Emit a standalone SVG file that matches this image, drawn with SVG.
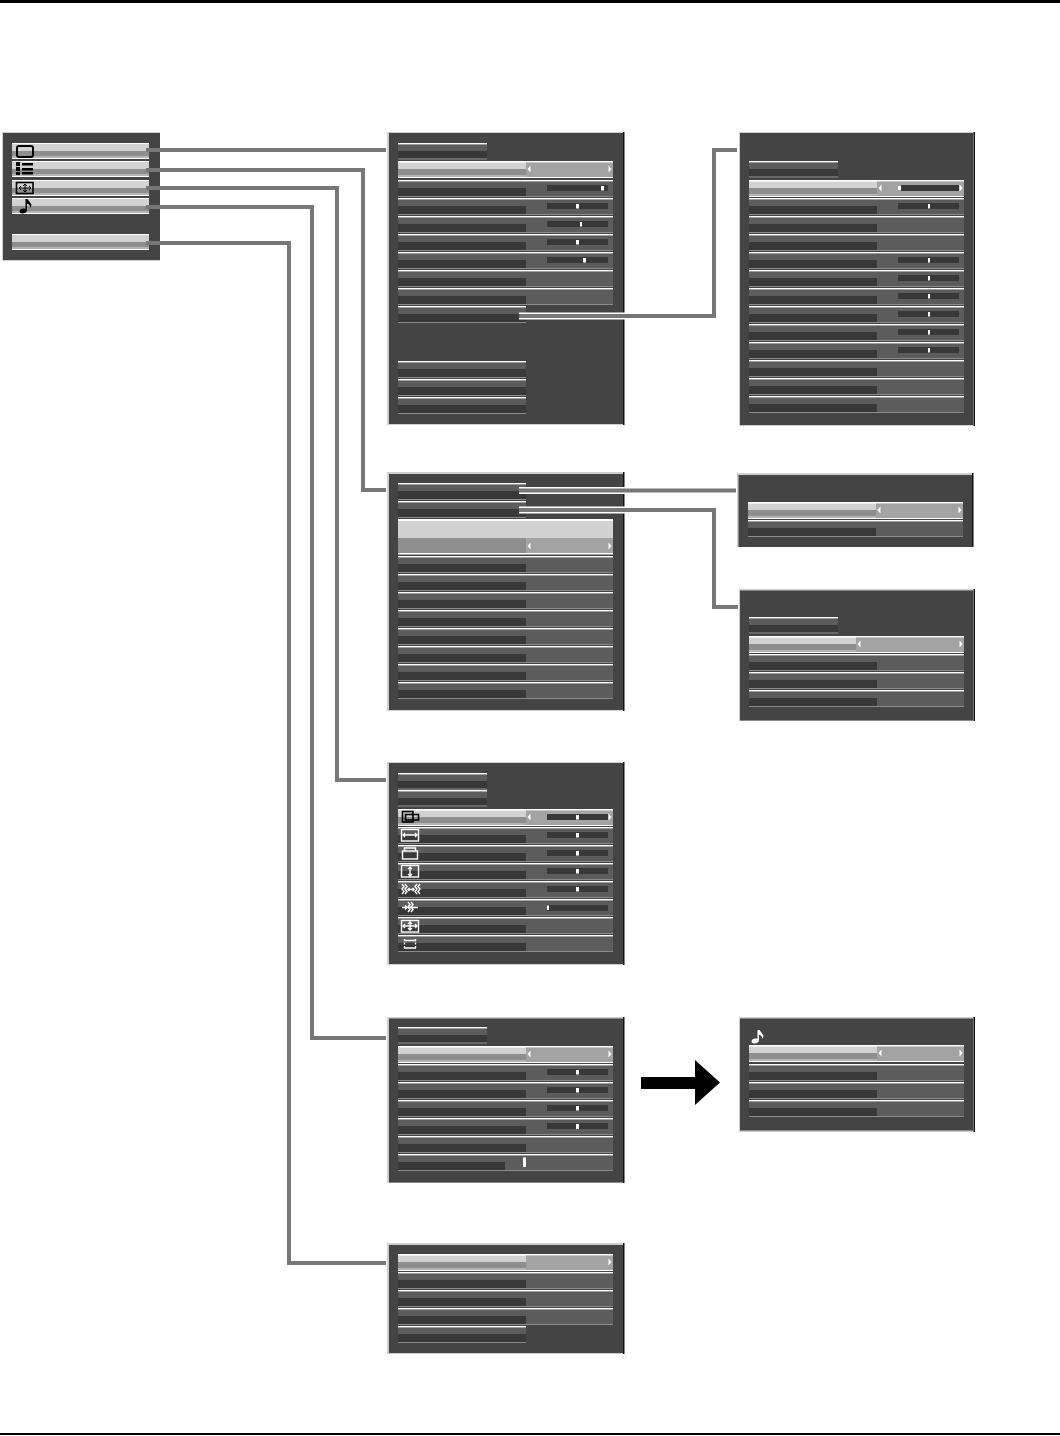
<svg xmlns="http://www.w3.org/2000/svg" width="1060" height="1436" viewBox="0 0 1060 1436">
<style>
.w{fill:#fff}.m{fill:#5c5c5c}.d{fill:#383838}.g{fill:#8c8c8c}.li{fill:#d2d2d2}.mid{fill:#8e8e8e}.sh{fill:#b4b4b4}.r{fill:#a3a3a3}
.pb{fill:#444}.pl{fill:#cfcfcf}.pk{fill:#111}.sl{fill:#383838}.k{fill:#fff}
.halo{fill:none;stroke:#fff;stroke-width:7}
.c{fill:none;stroke:#777;stroke-width:4}
.ib{fill:none;stroke:#000;stroke-width:1.6}
.iw{fill:none;stroke:#fff;stroke-width:1.4}
.af{fill:#fff}
</style>
<defs>
<g id="row"><rect class="m" y="1" width="128" height="7"/><rect class="d" y="8" width="128" height="8"/><rect class="m" x="128" y="1" width="87" height="15"/><rect class="g" y="16" width="215" height="1"/><rect class="w" width="215" height="1.4"/></g>
<g id="rowl"><rect class="m" y="1" width="128" height="7"/><rect class="d" y="8" width="128" height="8"/><rect class="g" y="16" width="128" height="1"/><rect class="w" width="128" height="1.4"/></g>
<g id="head"><rect class="m" y="1" width="89" height="7"/><rect class="d" y="8" width="89" height="7"/><rect class="g" y="15.500" width="89" height="1"/><rect class="w" width="89" height="1.400"/></g>
<g id="sel"><rect class="li" y="1" width="128" height="7"/><rect class="mid" y="8" width="128" height="6"/><rect class="sh" y="14" width="128" height="2"/><rect class="r" x="128" y="1.500" width="87" height="14.500"/><rect class="w" width="215" height="1.600"/><rect class="w" y="16" width="215" height="1"/></g>
<g id="larr"><path class="af" d="M129.500 8 L132.500 4.500 V11.500 Z"/></g>
<g id="rarr"><path class="af" d="M213.500 8 L210.500 4.500 V11.500 Z"/></g>
<g id="mrow"><rect class="li" width="137" height="8"/><rect class="mid" y="8" width="137" height="5"/><rect class="sh" y="13" width="137" height="2"/><rect class="w" width="137" height="1"/><rect class="w" y="15" width="137" height="1"/></g>
<rect id="s" class="sl" width="61" height="6"/>
</defs>

<rect id="top-rule" x="0" y="0" width="1060" height="3" fill="#000"/>
<rect id="bottom-rule" x="0" y="1433" width="1060" height="2" fill="#000"/>

<g id="menu">
<rect class="pl" x="2" y="132" width="158" height="129"/><rect class="pb" x="3" y="133" width="157" height="127"/>
<use href="#mrow" x="12" y="143"/><use href="#mrow" x="12" y="161"/><use href="#mrow" x="12" y="180"/><use href="#mrow" x="12" y="198"/><use href="#mrow" x="12" y="234"/>
<rect class="ib" x="17" y="146" width="16" height="11" rx="2" style="stroke-width:2"/>
<path fill="#000" d="M16 162h4v4h-4zM22 163h11v2.500h-11zM16 167h4v4h-4zM22 168h11v2.500h-11zM16 172h4v3h-4zM22 172h11v2.500h-11z"/>
<rect class="ib" x="16.500" y="182.500" width="16.500" height="11"/>
<path class="ib" d="M19 188h12M25 184v8M21 186l-2 2 2 2M29 186l2 2-2 2M23 186l2-2 2 2M23 190l2 2 2-2" style="stroke-width:1"/>
<path fill="#000" d="M25.500 199h2l4 5.500-1 3.500-1-3-2.500-1.500V210c0 2-2 3.500-4.500 3.500-2 0-3-1-3-2 0-1.800 2-3 4-3 1 0 1.500.2 2 .4z"/>
</g>

<g id="picture-menu">
<rect class="pl" x="387" y="132" width="237" height="293"/><rect class="pb" x="389" y="133" width="234" height="291"/><rect class="pk" x="623" y="132" width="1.500" height="293"/>
<use href="#head" x="398" y="143"/>
<use href="#sel" x="398" y="161"/><use href="#larr" x="398" y="161"/><use href="#rarr" x="398" y="161"/>
<use href="#row" x="398" y="180"/><use href="#row" x="398" y="198"/><use href="#row" x="398" y="216"/><use href="#row" x="398" y="234"/><use href="#row" x="398" y="252"/><use href="#row" x="398" y="270"/><use href="#row" x="398" y="288"/>
<use href="#rowl" x="398" y="306"/><use href="#rowl" x="398" y="361"/><use href="#rowl" x="398" y="379"/><use href="#rowl" x="398" y="397"/>
<use href="#s" x="547" y="185"/><use href="#s" x="547" y="203"/><use href="#s" x="547" y="221"/><use href="#s" x="547" y="239"/><use href="#s" x="547" y="257"/>
<rect class="k" x="601" y="186" width="3" height="4.500"/><rect class="k" x="576" y="204" width="3" height="4.500"/><rect class="k" x="580" y="222" width="2" height="4.500"/><rect class="k" x="576" y="240" width="3" height="4.500"/><rect class="k" x="583" y="258" width="3" height="4.500"/>
</g>

<g id="advanced-picture">
<rect class="pl" x="739" y="132" width="236" height="294"/><rect class="pb" x="740" y="133" width="233" height="292"/><rect class="pk" x="973.500" y="132" width="1.500" height="294"/>
<use href="#head" x="749" y="161"/>
<use href="#sel" x="749" y="180"/><use href="#larr" x="749" y="180"/><use href="#rarr" x="749" y="180"/>
<use href="#row" x="749" y="198"/><use href="#row" x="749" y="216"/><use href="#row" x="749" y="234"/><use href="#row" x="749" y="252"/><use href="#row" x="749" y="270"/><use href="#row" x="749" y="288"/><use href="#row" x="749" y="306"/><use href="#row" x="749" y="324"/><use href="#row" x="749" y="342"/><use href="#row" x="749" y="360"/><use href="#row" x="749" y="378"/><use href="#row" x="749" y="396"/>
<use href="#s" x="898" y="185"/><use href="#s" x="898" y="203"/><use href="#s" x="898" y="257"/><use href="#s" x="898" y="275"/><use href="#s" x="898" y="293"/><use href="#s" x="898" y="311"/><use href="#s" x="898" y="329"/><use href="#s" x="898" y="347"/>
<rect class="k" x="898" y="185.500" width="3" height="5"/><rect class="k" x="928" y="204" width="2" height="4.500"/><rect class="k" x="928" y="258" width="2" height="4.500"/><rect class="k" x="928" y="276" width="2" height="4.500"/><rect class="k" x="928" y="294" width="2" height="4.500"/><rect class="k" x="928" y="312" width="2" height="4.500"/><rect class="k" x="928" y="330" width="2" height="4.500"/><rect class="k" x="928" y="348" width="2" height="4.500"/>
</g>

<g id="setup-menu">
<rect class="pl" x="387" y="472" width="237" height="239"/><rect class="pb" x="389" y="474" width="234" height="236"/><rect class="pk" x="623" y="472" width="1.500" height="239"/>
<use href="#rowl" x="398" y="483"/><use href="#rowl" x="398" y="501"/>
<rect class="w" x="398" y="519" width="215" height="2"/><rect class="li" x="398" y="521" width="215" height="17"/>
<rect class="mid" x="398" y="538" width="128" height="15"/><rect class="r" x="526" y="538" width="87" height="15"/><rect class="w" x="398" y="553" width="215" height="1.500"/>
<use href="#larr" x="398" y="538"/><use href="#rarr" x="398" y="538"/>
<use href="#row" x="398" y="556"/><use href="#row" x="398" y="574"/><use href="#row" x="398" y="592"/><use href="#row" x="398" y="610"/><use href="#row" x="398" y="628"/><use href="#row" x="398" y="646"/><use href="#row" x="398" y="664"/><use href="#row" x="398" y="682"/>
</g>

<g id="setup-sub-one">
<rect class="pl" x="737" y="473" width="236" height="74"/><rect class="pb" x="738.500" y="475" width="233.500" height="72"/><rect class="pk" x="972" y="473" width="1.500" height="74"/>
<use href="#sel" x="748" y="502"/><use href="#larr" x="748" y="502"/><use href="#rarr" x="748" y="502"/>
<use href="#row" x="748" y="520"/>
</g>

<g id="setup-sub-two">
<rect class="pl" x="739" y="589" width="236" height="132"/><rect class="pb" x="740" y="590.500" width="233" height="130"/><rect class="pk" x="973.500" y="589" width="1.500" height="132"/>
<use href="#head" x="749" y="617"/>
<use href="#sel" x="749" y="636"/><rect class="r" x="856" y="637.500" width="21" height="14.500"/><use href="#rarr" x="749" y="636"/><path class="af" d="M857.500 644 L860.500 640.500 V647.500 Z"/>
<use href="#row" x="749" y="654"/><use href="#row" x="749" y="672"/><use href="#row" x="749" y="690"/>
</g>

<g id="position-menu">
<rect class="pl" x="387" y="762" width="237" height="203"/><rect class="pb" x="389" y="763" width="234" height="201"/><rect class="pk" x="623" y="762" width="1.500" height="203"/>
<use href="#head" x="398" y="773"/><use href="#head" x="398" y="790"/>
<use href="#sel" x="398" y="809"/><use href="#larr" x="398" y="809"/><use href="#rarr" x="398" y="809"/>
<use href="#row" x="398" y="827"/><use href="#row" x="398" y="845"/><use href="#row" x="398" y="863"/><use href="#row" x="398" y="881"/><use href="#row" x="398" y="899"/><use href="#row" x="398" y="917"/><use href="#row" x="398" y="935"/>
<use href="#s" x="547" y="814"/><use href="#s" x="547" y="832"/><use href="#s" x="547" y="850"/><use href="#s" x="547" y="868"/><use href="#s" x="547" y="886"/><use href="#s" x="547" y="905"/>
<rect class="k" x="576" y="815" width="3" height="4.500"/><rect class="k" x="576" y="833" width="3" height="4.500"/><rect class="k" x="576" y="851" width="3" height="4.500"/><rect class="k" x="576" y="869" width="3" height="4.500"/><rect class="k" x="576" y="887" width="3" height="4.500"/><rect class="k" x="547" y="905.500" width="2" height="4.500"/>
<rect class="ib" x="402.500" y="811.500" width="10.500" height="10.500"/><rect class="ib" x="405.500" y="814.500" width="13" height="5.500"/>
<rect class="iw" x="401.500" y="829.500" width="17" height="11.500"/><path class="iw" d="M403 835h14M405 833l-2 2 2 2M415 833l2 2-2 2"/>
<rect class="iw" x="402.500" y="851" width="15" height="8"/><path class="iw" d="M404.500 851v-3h11v3"/>
<rect class="iw" x="401.500" y="865.500" width="17" height="11.500"/><path class="iw" d="M410 867v9M408 869l2-2 2 2M408 874l2 2 2-2"/>
<path class="iw" d="M402 884l2 2.500-2 2.500 2 2.500-2 2.500M405 884l2 2.500-2 2.500 2 2.500-2 2.500M417 884l-2 2.500 2 2.500-2 2.500 2 2.500M420 884l-2 2.500 2 2.500-2 2.500 2 2.500M408 889.500h6M409.500 888l-1.500 1.500 1.500 1.500M412.500 888l1.500 1.500-1.500 1.500"/>
<path class="iw" d="M402 907.500h16M405 905.500l2 2-2 2M408 902l2 2.500-2 2.500 2 2.500-2 2.500M411 902l2 2.500-2 2.500 2 2.500-2 2.500"/>
<rect class="iw" x="401.500" y="920.500" width="17" height="11.500"/><path class="iw" d="M403 926h14M410 922v8M405 924l-2 2 2 2M415 924l2 2-2 2M408 924l2-2 2 2M408 928l2 2 2-2"/>
<path class="iw" d="M404 940.500h12M404 948h12"/><path class="iw" d="M404.500 939v10M415.500 939v10" stroke-dasharray="2 1.500"/>
</g>

<g id="sound-menu">
<rect class="pl" x="387" y="1017" width="237" height="166"/><rect class="pb" x="389" y="1018.500" width="234" height="164"/><rect class="pk" x="623" y="1017" width="1.500" height="166"/>
<use href="#head" x="398" y="1027"/>
<use href="#sel" x="398" y="1046"/><use href="#larr" x="398" y="1046"/><use href="#rarr" x="398" y="1046"/>
<use href="#row" x="398" y="1064"/><use href="#row" x="398" y="1082"/><use href="#row" x="398" y="1100"/><use href="#row" x="398" y="1118"/><use href="#row" x="398" y="1136"/><use href="#row" x="398" y="1154"/>
<rect class="m" x="505" y="1162" width="21" height="8"/><rect class="k" x="523" y="1157.500" width="3" height="9.500"/>
<use href="#s" x="547" y="1069"/><use href="#s" x="547" y="1087"/><use href="#s" x="547" y="1105"/><use href="#s" x="547" y="1123"/>
<rect class="k" x="576" y="1070" width="3" height="4.500"/><rect class="k" x="576" y="1088" width="3" height="4.500"/><rect class="k" x="576" y="1106" width="3" height="4.500"/><rect class="k" x="576" y="1124" width="3" height="5"/>
</g>

<g id="sound-next">
<rect class="pl" x="739" y="1017" width="236" height="115"/><rect class="pb" x="740" y="1018.500" width="233" height="112"/><rect class="pk" x="973.500" y="1017" width="1.500" height="115"/>
<use href="#sel" x="749" y="1045"/><use href="#larr" x="749" y="1045"/><use href="#rarr" x="749" y="1045"/>
<use href="#row" x="749" y="1064"/><use href="#row" x="749" y="1082"/><use href="#row" x="749" y="1100"/>
<path fill="#fff" d="M757.500 1030h2l4 5.500-1 3.500-1-3-2.500-1.500V1040c0 2-2 3.500-4.500 3.500-2 0-3-1-3-2 0-1.800 2-3 4-3 1 0 1.500.2 2 .4z"/>
</g>

<g id="options-menu">
<rect class="pl" x="387" y="1243" width="237" height="111"/><rect class="pb" x="389" y="1245" width="234" height="108"/><rect class="pk" x="623" y="1243" width="1.500" height="111"/>
<use href="#sel" x="398" y="1254"/><use href="#rarr" x="398" y="1254"/>
<use href="#row" x="398" y="1272"/><use href="#row" x="398" y="1290"/><use href="#row" x="398" y="1308"/>
<use href="#rowl" x="398" y="1326"/>
</g>

<g id="connectors">
<path class="halo" d="M519 316H630M519 490.500H630M519 510H630"/>
<path class="c" d="M146 150H386"/>
<path class="c" d="M146 170H363V490H386"/>
<path class="c" d="M146 188H337V780H386"/>
<path class="c" d="M146 207H312V1038H386"/>
<path class="c" d="M146 243H289V1263H386"/>
<path class="c" d="M519 316H714V150H737"/>
<path class="c" d="M519 490.500H736"/>
<path class="c" d="M519 510H714V607H738"/>
<polygon id="next-arrow" points="641,1077 695,1077 695,1060 720,1082.500 695,1105 695,1089 641,1089" fill="#000"/>
</g>
</svg>
